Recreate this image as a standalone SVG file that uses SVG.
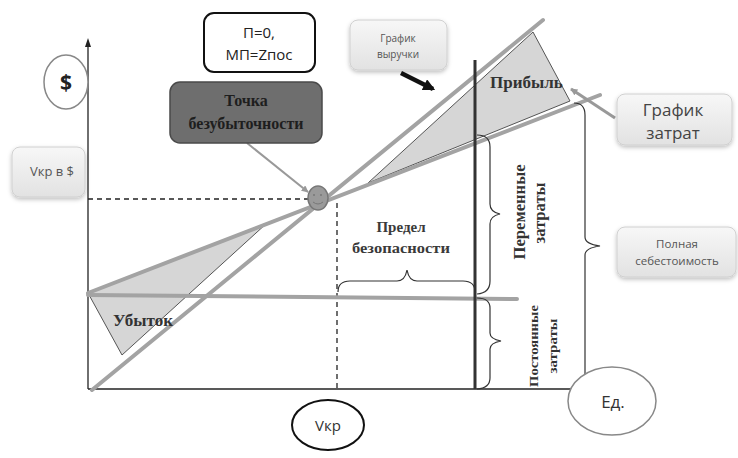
<svg xmlns="http://www.w3.org/2000/svg" width="738" height="458" viewBox="0 0 738 458">
<defs>
<style>
.thick{stroke:#a3a3a3;stroke-width:4;fill:none;stroke-linecap:round}
.tri{fill:#d6d6d6;stroke:#555;stroke-width:1}
.brace{fill:none;stroke:#333;stroke-width:1.2}
.dash{stroke:#222;stroke-width:1.3;stroke-dasharray:5,4;fill:none}
.sans{font-family:"Open Sans","Liberation Sans",sans-serif}
.serif{font-family:"Liberation Serif","Times New Roman",serif}
.lbox{fill:url(#lg);stroke:#d0d0d0;stroke-width:1;filter:url(#sh)}
</style>
<linearGradient id="lg" x1="0" y1="0" x2="0" y2="1">
<stop offset="0" stop-color="#f7f7f7"/>
<stop offset="1" stop-color="#e2e2e2"/>
</linearGradient>
<filter id="sh" x="-20%" y="-20%" width="140%" height="150%">
<feDropShadow dx="0" dy="2" stdDeviation="2" flood-color="#000" flood-opacity="0.25"/>
</filter>
<marker id="ag" viewBox="0 0 10 10" refX="9" refY="5" markerWidth="7" markerHeight="7" orient="auto" markerUnits="userSpaceOnUse">
<path d="M0,0 L10,5 L0,10 z" fill="#999"/>
</marker>
<marker id="ab" viewBox="0 0 10 10" refX="8" refY="5" markerWidth="12" markerHeight="12" orient="auto" markerUnits="userSpaceOnUse">
<path d="M0,0 L10,5 L0,10 z" fill="#111"/>
</marker>
</defs>
<rect width="738" height="458" fill="#fff"/>

<g id="axes">
<line x1="88" y1="42" x2="88" y2="389" stroke="#222" stroke-width="1.3"/>
<path d="M85,47 L88,38 L91,47 z" fill="#222"/>
<line x1="88" y1="389" x2="572" y2="389" stroke="#222" stroke-width="1.3"/>
</g>

<g id="areas">
<polygon class="tri" points="88,293 267,223 122,355"/>
<polygon class="tri" points="368,183 533,32 570,101"/>
</g>

<g id="connectors">
<line class="dash" x1="88" y1="199" x2="308" y2="199"/>
<line class="dash" x1="337" y1="203" x2="337" y2="388"/>
<line class="thick" x1="92" y1="390" x2="543" y2="20"/>
<line class="thick" x1="88" y1="293" x2="600" y2="95"/>
<line class="thick" x1="88" y1="295" x2="517" y2="299" stroke-width="3.5"/>
<line x1="475" y1="60" x2="475" y2="389" stroke="#333" stroke-width="3"/>
<path class="brace" d="M338,292 Q338,281 350,281 L397,281 Q405,281 407,270 Q409,281 417,281 L463,281 Q475,281 475,292"/>
<path class="brace" d="M477,135 Q490,135 490,147 L490,204 Q490,212 500,214 Q490,216 490,224 L490,281 Q490,293 477,294"/>
<path class="brace" d="M477,298 Q490,298 490,308 L490,333 Q490,339 501,341 Q490,343 490,349 L490,378 Q490,388 477,389"/>
<path class="brace" d="M574,103 Q585,103 585,115 L585,237 Q585,244 600,246 Q585,248 585,255 L585,376 Q585,388 574,390"/>
<line x1="247" y1="143" x2="308" y2="192" stroke="#999" stroke-width="2" marker-end="url(#ag)"/>
<line x1="615" y1="118" x2="571" y2="89" stroke="#999" stroke-width="3" marker-end="url(#ag)"/>
<line x1="401" y1="73" x2="433" y2="89" stroke="#111" stroke-width="4.5" marker-end="url(#ab)"/>
</g>

<g id="breakeven">
<ellipse cx="318" cy="198" rx="10" ry="12" fill="#9a9a9a" stroke="#777" stroke-width="1.5"/>
<circle cx="314" cy="195" r="1" fill="#777"/>
<circle cx="321" cy="195" r="1" fill="#777"/>
<path d="M313,202 Q318,206 323,202" fill="none" stroke="#777" stroke-width="1"/>
</g>

<g id="dollar">
<ellipse cx="66" cy="82" rx="22" ry="27" fill="#fff" stroke="#888" stroke-width="1.5"/>
<text x="66" y="90" text-anchor="middle" class="sans" font-size="21" font-weight="bold" fill="#222">$</text>
</g>

<g id="pm-box">
<rect x="204" y="13" width="111" height="59" rx="10" fill="#fff" stroke="#111" stroke-width="2"/>
<text x="259" y="38" text-anchor="middle" class="sans" font-size="15" fill="#222">П=0,</text>
<text x="259" y="60" text-anchor="middle" class="sans" font-size="15" fill="#222">МП=Zпос</text>
</g>

<g id="bep-box">
<rect x="170" y="82" width="152" height="61" rx="10" fill="#6e6e6e" stroke="#4a4a4a" stroke-width="1.5"/>
<text x="246" y="106" text-anchor="middle" class="serif" font-size="16" font-weight="bold" fill="#1e1e1e">Точка</text>
<text x="246" y="129" text-anchor="middle" class="serif" font-size="16" font-weight="bold" fill="#1e1e1e">безубыточности</text>
</g>

<g id="vkr-usd">
<rect x="12" y="147" width="73" height="50" rx="8" class="lbox"/>
<text x="52" y="176" text-anchor="middle" class="sans" font-size="13" fill="#555">Vкр в $</text>
</g>

<g id="revenue-box">
<rect x="350" y="20" width="97" height="50" rx="8" class="lbox"/>
<text x="398" y="42" text-anchor="middle" class="sans" font-size="10" fill="#555">График</text>
<text x="398" y="58" text-anchor="middle" class="sans" font-size="10" fill="#555">выручки</text>
</g>

<g id="cost-box">
<rect x="617" y="94" width="115" height="51" rx="8" class="lbox"/>
<text x="673" y="116" text-anchor="middle" class="sans" font-size="17" fill="#444">График</text>
<text x="673" y="139" text-anchor="middle" class="sans" font-size="17" fill="#444">затрат</text>
</g>

<g id="fullcost-box">
<rect x="617" y="227" width="119" height="50" rx="8" class="lbox"/>
<text x="677" y="248" text-anchor="middle" class="sans" font-size="11.5" fill="#555">Полная</text>
<text x="677" y="265" text-anchor="middle" class="sans" font-size="11.5" fill="#555">себестоимость</text>
</g>

<g id="vkr">
<ellipse cx="328" cy="425" rx="36" ry="25" fill="#fff" stroke="#111" stroke-width="2"/>
<text x="328" y="431" text-anchor="middle" class="sans" font-size="15" fill="#333">Vкр</text>
</g>

<g id="units">
<ellipse cx="612" cy="401" rx="44" ry="34" fill="#fff" stroke="#888" stroke-width="1.5"/>
<text x="613" y="408" text-anchor="middle" class="sans" font-size="17" fill="#333">Ед.</text>
</g>

<g id="labels">
<text x="490" y="88" class="serif" font-size="17" font-weight="bold" fill="#333">Прибыль</text>
<text x="113" y="326" class="serif" font-size="17" font-weight="bold" fill="#333">Убыток</text>
<text x="401" y="232" text-anchor="middle" class="serif" font-size="15" font-weight="bold" fill="#3a3a3a">Предел</text>
<text x="401" y="253" text-anchor="middle" class="serif" font-size="15" font-weight="bold" fill="#3a3a3a" textLength="98" lengthAdjust="spacingAndGlyphs">безопасности</text>
<text transform="translate(525,212) rotate(-90)" text-anchor="middle" class="serif" font-size="16" font-weight="bold" fill="#333" textLength="95" lengthAdjust="spacingAndGlyphs">Переменные</text>
<text transform="translate(545,213) rotate(-90)" text-anchor="middle" class="serif" font-size="16" font-weight="bold" fill="#333" textLength="61" lengthAdjust="spacingAndGlyphs">затраты</text>
<text transform="translate(538,346) rotate(-90)" text-anchor="middle" class="serif" font-size="13" font-weight="bold" fill="#333" textLength="82" lengthAdjust="spacingAndGlyphs">Постоянные</text>
<text transform="translate(557,346) rotate(-90)" text-anchor="middle" class="serif" font-size="13" font-weight="bold" fill="#333" textLength="55" lengthAdjust="spacingAndGlyphs">затраты</text>
</g>
</svg>
